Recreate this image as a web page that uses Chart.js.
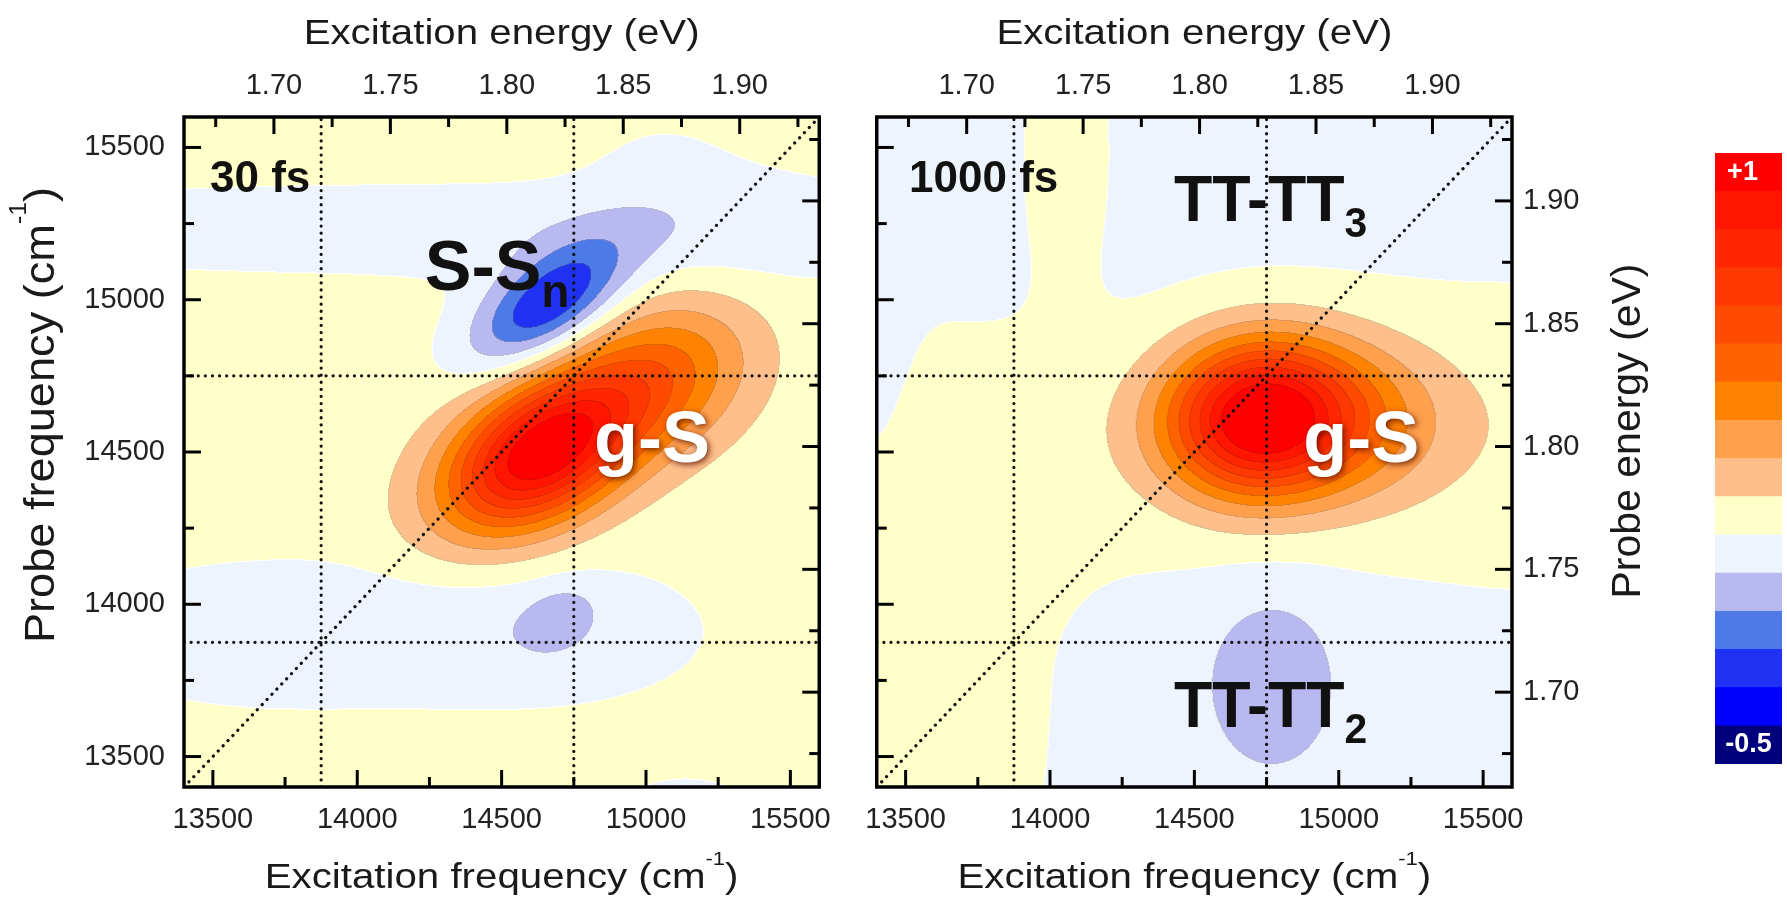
<!DOCTYPE html>
<html>
<head>
<meta charset="utf-8">
<script src="https://cdn.jsdelivr.net/npm/chart.js@4.4.1/dist/chart.umd.min.js"></script>
<style>
  html, body { margin: 0; padding: 0; background: #fff; }
  body { width: 1787px; height: 897px; position: relative; overflow: hidden; }
  canvas { position: absolute; }
</style>
</head>
<body>
<canvas id="p30" width="848" height="897" style="left:0;top:0"></canvas>
<canvas id="p1000" width="810" height="897" style="left:848px;top:0"></canvas>
<canvas id="cbar" width="67" height="611" style="left:1715px;top:153px"></canvas>
<script>
// axes (cm-1 and eV)
const CM_PER_EV = 8065.54;
const freqMin = 13400, freqMax = 15600;
const freqTicks = [13500, 13750, 14000, 14250, 14500, 14750, 15000, 15250, 15500];
const freqLabels = [13500, 14000, 14500, 15000, 15500];
const energyTicks = [1.675, 1.700, 1.725, 1.750, 1.775, 1.800, 1.825, 1.850, 1.875, 1.900, 1.925];
const energyLabels = [1.70, 1.75, 1.80, 1.85, 1.90];
const markerFreqs = [13875, 14750];

// colour scale: -0.5 ... +1, 16 bands (bottom -> top)
const bandThresholds = [-0.5, -0.4, -0.3, -0.2, -0.1, 0, 0.1, 0.2, 0.3, 0.4, 0.5, 0.6, 0.7, 0.8, 0.9];
const bandColors = ['#00007d', '#0000ff', '#1f31f2', '#4d7ae6', '#b9b9f2', '#eef4fd', '#ffffc9', '#ffbf8b',
  '#ffa04d', '#ff8200', '#ff6300', '#ff4a00', '#ff3700', '#ff2600', '#ff1500', '#ff0000'];

// 30 fs map, features (tilted gaussians, cm-1)
const fs30Base = 0.04;
const fs30X    = [14640, 15060, 14665, 14700, 14300, 15350, 13700, 14650, 14700, 15140, 15050];
const fs30Y    = [14500, 14750, 14985, 15020, 15230, 15200, 13900, 13910, 13954, 13320, 15450];
const fs30Wx   = [250, 230, 205, 380, 1600, 300, 500, 400, 90, 150, 180];
const fs30Wy   = [148, 165, 100, 190, 115, 200, 175, 170, 65, 70, 120];
const fs30Tilt = [30, 25, 33, 25, 0, 0, 0, 0, 25, 0, 0];
const fs30Amp  = [0.97, 0.35, -0.42, -0.025, -0.09, -0.04, -0.10, -0.10, -0.12, -0.12, -0.04];

// 1000 fs map
const fs1000Base = -0.03;
const fs1000X    = [14720, 15060, 14900, 15650, 13450, 14060, 14768, 13400];
const fs1000Y    = [14610, 14600, 14560, 14450, 13650, 15500, 13740, 14900];
const fs1000Wx   = [220, 230, 1400, 350, 420, 110, 163, 80];
const fs1000Wy   = [175, 185, 280, 450, 750, 330, 207, 450];
const fs1000Tilt = [4, 0, 3, 0, 0, 0, 0, 0];
const fs1000Amp  = [0.97, 0.25, 0.075, 0.03, 0.07, 0.07, -0.16, -0.06];

const FONT = "'Liberation Sans', Arial, sans-serif";

const hexRgb = h => [1, 3, 5].map(i => parseInt(h.slice(i, i + 2), 16));
const bandRgb = bandColors.map(hexRgb);

const bandOf = v => {
  let k = 0;
  while (k < bandThresholds.length && v >= bandThresholds[k]) k++;
  return k;
};

const makeField = (base, X, Y, Wx, Wy, Tilt, Amp) => {
  const comps = X.map((x, i) => {
    const a = Tilt[i] * Math.PI / 180;
    return { x, y: Y[i], c: Math.cos(a), s: Math.sin(a), wx: Wx[i], wy: Wy[i], amp: Amp[i] };
  });
  return (x, y) => {
    let v = base;
    for (const g of comps) {
      const dx = x - g.x, dy = y - g.y;
      const u = dx * g.c + dy * g.s, w = -dx * g.s + dy * g.c;
      v += g.amp * Math.exp(-(u * u) / (2 * g.wx * g.wx) - (w * w) / (2 * g.wy * g.wy));
    }
    return v;
  };
};

// filled contour map drawn in the chart area through the scales
const fieldPlugin = {
  id: 'field',
  beforeDatasetsDraw(chart, args, opts) {
    const a = chart.chartArea;
    const xs = chart.scales.x, ys = chart.scales.y;
    const w = Math.round(a.right - a.left), h = Math.round(a.bottom - a.top);
    const band = new Uint8Array(w * h);
    const xv = [];
    for (let i = 0; i < w; i++) xv.push(xs.getValueForPixel(a.left + i + 0.5));
    for (let j = 0; j < h; j++) {
      const y = ys.getValueForPixel(a.top + j + 0.5);
      for (let i = 0; i < w; i++) band[j * w + i] = bandOf(opts.field(xv[i], y));
    }
    const off = document.createElement('canvas');
    off.width = w; off.height = h;
    const octx = off.getContext('2d');
    const img = octx.createImageData(w, h);
    for (let j = 0; j < h; j++) {
      for (let i = 0; i < w; i++) {
        const k = band[j * w + i];
        let c = bandRgb[k];
        const kr = i < w - 1 ? band[j * w + i + 1] : k;
        const kb = j < h - 1 ? band[(j + 1) * w + i] : k;
        const k2 = kr !== k ? kr : kb;
        if (k2 !== k) {
          if ((k === 5 && k2 === 6) || (k === 6 && k2 === 5)) c = [255, 255, 255];
          else c = c.map((ch, n) => Math.round((ch + bandRgb[k2][n]) / 2 * 0.86));
        }
        const p = (j * w + i) * 4;
        img.data[p] = c[0]; img.data[p + 1] = c[1]; img.data[p + 2] = c[2]; img.data[p + 3] = 255;
      }
    }
    octx.putImageData(img, 0, 0);
    chart.ctx.drawImage(off, a.left, a.top);
  }
};

const isFreqLabel = v => freqLabels.some(f => Math.abs(f - v) < 1e-6);
const isEnergyLabel = v => energyLabels.some(e => Math.abs(e - v) < 1e-6);

// inward ticks + frame
const frameTicks = {
  id: 'frameTicks',
  afterDatasetsDraw(chart) {
    const { ctx, chartArea: a } = chart;
    ctx.save();
    ctx.strokeStyle = '#000';
    ctx.lineWidth = 3;
    Object.values(chart.scales).forEach(s => {
      const energy = s.id.endsWith('2');
      s.ticks.forEach(t => {
        const major = energy ? isEnergyLabel(t.value) : isFreqLabel(t.value);
        const len = major ? 17 : 10;
        const p = s.getPixelForValue(t.value);
        ctx.beginPath();
        if (s.position === 'bottom') { ctx.moveTo(p, a.bottom); ctx.lineTo(p, a.bottom - len); }
        if (s.position === 'top') { ctx.moveTo(p, a.top); ctx.lineTo(p, a.top + len); }
        if (s.position === 'left') { ctx.moveTo(a.left, p); ctx.lineTo(a.left + len, p); }
        if (s.position === 'right') { ctx.moveTo(a.right, p); ctx.lineTo(a.right - len, p); }
        ctx.stroke();
      });
    });
    ctx.lineWidth = 3.5;
    ctx.strokeRect(a.left, a.top, a.right - a.left, a.bottom - a.top);
    ctx.restore();
  }
};

// rich text: parts with sub/superscripts
const drawParts = (ctx, parts, x, y, size, weight, squeeze, align) => {
  ctx.save();
  const sizeOf = p => p.sub ? size * 0.65 : p.sup ? size * 0.55 : size;
  const widthOf = p => {
    ctx.font = `${weight} ${sizeOf(p)}px ${FONT}`;
    return ctx.measureText(p.t).width;
  };
  const total = parts.reduce((acc, p) => acc + widthOf(p), 0) * squeeze;
  ctx.translate(align === 'center' ? x - total / 2 : x, y);
  ctx.scale(squeeze, 1);
  ctx.textBaseline = 'alphabetic';
  ctx.textAlign = 'left';
  let cx = 0;
  parts.forEach(p => {
    ctx.font = `${weight} ${sizeOf(p)}px ${FONT}`;
    const dy = p.sub ? size * 0.25 : p.sup ? -size * 0.66 : 0;
    ctx.fillText(p.t, cx, dy);
    cx += ctx.measureText(p.t).width;
  });
  ctx.restore();
};

const freqTitle = [{ t: 'Excitation frequency (cm' }, { t: '-1', sup: true }, { t: ')' }];
const energyTitle = [{ t: 'Excitation energy (eV)' }];
const probeFreqTitle = [{ t: 'Probe frequency (cm' }, { t: '-1', sup: true }, { t: ')' }];
const probeEnergyTitle = [{ t: 'Probe energy (eV)' }];

const annotate = {
  id: 'annotate',
  afterDraw(chart, args, opts) {
    const { ctx, chartArea: a } = chart;
    const xs = chart.scales.x, ys = chart.scales.y;
    ctx.save();
    ctx.fillStyle = '#1a1a1a';
    const mid = (a.left + a.right) / 2;
    drawParts(ctx, freqTitle, mid, 888, 35, 'normal', 1.15, 'center');
    drawParts(ctx, energyTitle, mid, 44, 35, 'normal', 1.15, 'center');
    if (opts.leftTitle) {
      ctx.save(); ctx.translate(54, 415); ctx.rotate(-Math.PI / 2);
      drawParts(ctx, probeFreqTitle, 0, 0, 43, 'normal', 1.05, 'center');
      ctx.restore();
    }
    if (opts.rightTitle) {
      ctx.save(); ctx.translate(a.right + 128, 431); ctx.rotate(-Math.PI / 2);
      drawParts(ctx, probeEnergyTitle, 0, 0, 41, 'normal', 1.0, 'center');
      ctx.restore();
    }
    opts.texts.forEach(tx => {
      ctx.save();
      ctx.fillStyle = tx.color;
      if (tx.shadow) {
        ctx.shadowColor = 'rgba(90,20,0,0.85)';
        ctx.shadowBlur = 6; ctx.shadowOffsetX = 2; ctx.shadowOffsetY = 2;
      }
      drawParts(ctx, tx.parts, xs.getPixelForValue(tx.x), ys.getPixelForValue(tx.y), tx.size, 'bold', tx.squeeze, 'left');
      ctx.restore();
    });
    ctx.restore();
  }
};

const noGrid = { display: false, drawTicks: false, tickLength: 0 };
const tickFont = { family: FONT, size: 29 };
const setTicks = values => s => { s.ticks = values.map(v => ({ value: v })); };

const dotted = pts => ({
  data: pts, showLine: true, pointRadius: 0, borderColor: '#111', borderWidth: 3.2,
  borderDash: [0.1, 7], borderCapStyle: 'round', xAxisID: 'x', yAxisID: 'y'
});

const makePanel = (id, cfg) => new Chart(document.getElementById(id), {
  type: 'scatter',
  data: {
    datasets: [
      ...markerFreqs.map(f => dotted([{ x: f, y: freqMin }, { x: f, y: freqMax }])),
      ...markerFreqs.map(f => dotted([{ x: freqMin, y: f }, { x: freqMax, y: f }])),
      dotted([{ x: freqMin, y: freqMin }, { x: freqMax, y: freqMax }])
    ]
  },
  options: {
    responsive: false,
    animation: false,
    devicePixelRatio: 1,
    layout: { padding: 0, autoPadding: false },
    events: [],
    plugins: {
      legend: { display: false },
      tooltip: { enabled: false },
      field: { field: cfg.field },
      annotate: { texts: cfg.texts, leftTitle: cfg.leftLabels, rightTitle: cfg.rightLabels }
    },
    scales: {
      x: {
        type: 'linear', position: 'bottom', min: freqMin, max: freqMax,
        afterBuildTicks: setTicks(freqTicks),
        afterFit: s => { s.height = 110; },
        grid: noGrid, border: { display: false },
        ticks: { autoSkip: false, maxRotation: 0, padding: 16,
          font: tickFont, color: '#222', callback: v => isFreqLabel(v) ? String(Math.round(v)) : '' }
      },
      x2: {
        type: 'linear', position: 'top', min: freqMin / CM_PER_EV, max: freqMax / CM_PER_EV,
        afterBuildTicks: setTicks(energyTicks),
        afterFit: s => { s.height = 117; },
        grid: noGrid, border: { display: false },
        ticks: { autoSkip: false, maxRotation: 0, padding: 14,
          font: tickFont, color: '#222', callback: v => isEnergyLabel(v) ? v.toFixed(2) : '' }
      },
      y: {
        type: 'linear', position: 'left', min: freqMin, max: freqMax,
        afterBuildTicks: setTicks(freqTicks),
        afterFit: s => { s.width = cfg.leftW; },
        grid: noGrid, border: { display: false },
        ticks: { display: cfg.leftLabels, autoSkip: false, padding: 19,
          font: tickFont, color: '#222', callback: v => isFreqLabel(v) ? String(Math.round(v)) : '' }
      },
      y2: {
        type: 'linear', position: 'right', min: freqMin / CM_PER_EV, max: freqMax / CM_PER_EV,
        afterBuildTicks: setTicks(energyTicks),
        afterFit: s => { s.width = cfg.rightW; },
        grid: noGrid, border: { display: false },
        ticks: { display: cfg.rightLabels, autoSkip: false, padding: 11,
          font: tickFont, color: '#222', callback: v => isEnergyLabel(v) ? v.toFixed(2) : '' }
      }
    }
  },
  plugins: [fieldPlugin, frameTicks, annotate]
});

makePanel('p30', {
  field: makeField(fs30Base, fs30X, fs30Y, fs30Wx, fs30Wy, fs30Tilt, fs30Amp),
  leftW: 184, rightW: 27, leftLabels: true, rightLabels: false,
  texts: [
    { parts: [{ t: '30 fs' }], x: 13490, y: 15354, size: 44, squeeze: 1, color: '#111' },
    { parts: [{ t: 'S-S' }, { t: 'n', sub: true }], x: 14234, y: 15033, size: 70, squeeze: 1, color: '#111' },
    { parts: [{ t: 'g-S' }], x: 14820, y: 14467, size: 72, squeeze: 1, color: '#fff', shadow: true }
  ]
});

makePanel('p1000', {
  field: makeField(fs1000Base, fs1000X, fs1000Y, fs1000Wx, fs1000Wy, fs1000Tilt, fs1000Amp),
  leftW: 27, rightW: 146, leftLabels: false, rightLabels: true,
  texts: [
    { parts: [{ t: '1000 fs' }], x: 13512, y: 15354, size: 44, squeeze: 1, color: '#111' },
    { parts: [{ t: 'TT-TT' }, { t: '3', sub: true }], x: 14429, y: 15260, size: 64, squeeze: 0.98, color: '#111' },
    { parts: [{ t: 'g-S' }], x: 14877, y: 14467, size: 72, squeeze: 1, color: '#fff', shadow: true },
    { parts: [{ t: 'TT-TT' }, { t: '2', sub: true }], x: 14429, y: 13597, size: 64, squeeze: 0.98, color: '#111' }
  ]
});

// colour bar
const barLabels = {
  id: 'barLabels',
  afterDraw(chart) {
    const { ctx } = chart;
    const top = chart.getDatasetMeta(bandColors.length - 1).data[0];
    const bottom = chart.getDatasetMeta(0).data[0];
    ctx.save();
    ctx.fillStyle = '#fff';
    ctx.font = `bold 27px ${FONT}`;
    ctx.textAlign = 'center';
    ctx.textBaseline = 'middle';
    ctx.fillText('+1', top.x - 6, (top.y + top.base) / 2);
    ctx.fillText('-0.5', bottom.x, (bottom.y + bottom.base) / 2);
    ctx.restore();
  }
};

new Chart(document.getElementById('cbar'), {
  type: 'bar',
  data: {
    labels: [''],
    datasets: bandColors.map(c => ({ data: [1], backgroundColor: c, borderWidth: 0, barPercentage: 1, categoryPercentage: 1 }))
  },
  options: {
    responsive: false, animation: false, devicePixelRatio: 1, events: [],
    layout: { padding: 0, autoPadding: false },
    plugins: { legend: { display: false }, tooltip: { enabled: false } },
    scales: {
      x: { stacked: true, display: false },
      y: { stacked: true, display: false, min: 0, max: bandColors.length }
    }
  },
  plugins: [barLabels]
});
</script>
</body>
</html>
